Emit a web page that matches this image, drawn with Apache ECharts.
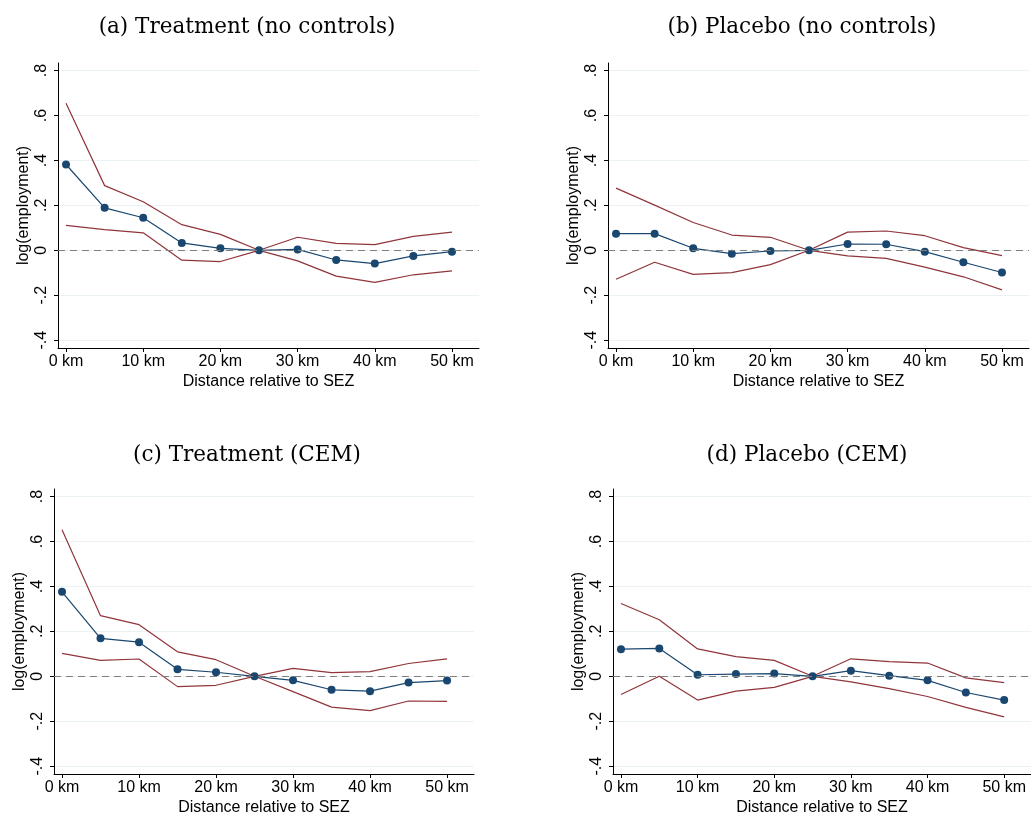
<!DOCTYPE html>
<html>
<head>
<meta charset="utf-8">
<script src="https://cdn.jsdelivr.net/npm/echarts@6/dist/echarts.min.js"></script>
<style>
  html, body { margin: 0; padding: 0; background: #fff; }
  #chart { width: 1031px; height: 817px; }
</style>
</head>
<body>
<div id="chart"></div>
<script>
// Distance bins (km) relative to the SEZ boundary
const distances = [0, 5, 10, 15, 20, 25, 30, 35, 40, 45, 50];
const xTickValues = [0, 10, 20, 30, 40, 50];
const yTickValues = [-0.4, -0.2, 0, 0.2, 0.4, 0.6, 0.8];

// (a) Treatment, no controls
const treatNoCtrlEst   = [0.382, 0.189, 0.145, 0.033, 0.009, 0, 0.004, -0.043, -0.059, -0.025, -0.006];
const treatNoCtrlUpper = [0.655, 0.288, 0.216, 0.114, 0.071, 0, 0.058, 0.031, 0.025, 0.062, 0.081];
const treatNoCtrlLower = [0.111, 0.092, 0.078, -0.044, -0.050, 0, -0.047, -0.115, -0.143, -0.109, -0.092];

// (b) Placebo, no controls
const placNoCtrlEst   = [0.074, 0.074, 0.009, -0.015, -0.003, 0, 0.028, 0.027, -0.006, -0.053, -0.099];
const placNoCtrlUpper = [0.277, 0.201, 0.124, 0.068, 0.058, 0, 0.081, 0.086, 0.065, 0.012, -0.024];
const placNoCtrlLower = [-0.129, -0.053, -0.107, -0.099, -0.064, 0, -0.025, -0.036, -0.075, -0.118, -0.176];

// (c) Treatment, CEM
const treatCemEst   = [0.376, 0.169, 0.152, 0.031, 0.018, 0, -0.018, -0.060, -0.066, -0.028, -0.019];
const treatCemUpper = [0.653, 0.270, 0.230, 0.109, 0.074, 0, 0.035, 0.016, 0.021, 0.057, 0.078];
const treatCemLower = [0.102, 0.071, 0.077, -0.046, -0.040, 0, -0.068, -0.137, -0.153, -0.110, -0.112];

// (d) Placebo, CEM
const placCemEst   = [0.121, 0.124, 0.007, 0.010, 0.012, 0, 0.025, 0.003, -0.018, -0.072, -0.106];
const placCemUpper = [0.324, 0.252, 0.122, 0.088, 0.071, 0, 0.078, 0.065, 0.059, -0.007, -0.028];
const placCemLower = [-0.081, 0, -0.106, -0.066, -0.049, 0, -0.025, -0.055, -0.090, -0.138, -0.181];

const panelTitles = [
  '(a) Treatment (no controls)',
  '(b) Placebo (no controls)',
  '(c) Treatment (CEM)',
  '(d) Placebo (CEM)'
];
const panels = [
  { est: treatNoCtrlEst, upper: treatNoCtrlUpper, lower: treatNoCtrlLower },
  { est: placNoCtrlEst,  upper: placNoCtrlUpper,  lower: placNoCtrlLower },
  { est: treatCemEst,    upper: treatCemUpper,    lower: treatCemLower },
  { est: placCemEst,     upper: placCemUpper,     lower: placCemLower }
];

// Layout of the four plot regions
const grids = [
  { left: 58,  top: 63,  width: 421, height: 285 },
  { left: 608, top: 63,  width: 421, height: 285 },
  { left: 54,  top: 489, width: 420, height: 286 },
  { left: 613, top: 489, width: 418, height: 286 }
];
const titleCenters = [
  { x: 242, y: 22 },
  { x: 797, y: 22 },
  { x: 242, y: 450 },
  { x: 802, y: 450 }
];

const NAVY = '#1a476f';
const MAROON = '#90353b';
const sansFont = '"Liberation Sans", Arial, sans-serif';

const pairs = ys => distances.map((d, i) => [d, ys[i]]);

const xAxes = grids.map((g, i) => ({
  type: 'value',
  gridIndex: i,
  min: -1.04,
  max: 53.5,
  name: 'Distance relative to SEZ',
  nameLocation: 'middle',
  nameGap: 26,
  nameTextStyle: { fontFamily: sansFont, fontSize: 16, color: '#000' },
  axisLine: { show: true, onZero: false, lineStyle: { color: '#000', width: 1 } },
  axisTick: { show: true, customValues: xTickValues, length: 4, lineStyle: { color: '#000' } },
  axisLabel: {
    customValues: xTickValues,
    formatter: v => v + ' km',
    fontFamily: sansFont, fontSize: 16, color: '#000', margin: 6
  },
  splitLine: { show: false }
}));

const yAxes = grids.map((g, i) => ({
  type: 'value',
  gridIndex: i,
  min: -0.435,
  max: 0.834,
  name: 'log(employment)',
  nameLocation: 'middle',
  nameGap: 26,
  nameTextStyle: { fontFamily: sansFont, fontSize: 16, color: '#000' },
  axisLine: { show: true, onZero: false, lineStyle: { color: '#000', width: 1 } },
  axisTick: { show: true, customValues: yTickValues, length: 4, lineStyle: { color: '#000' } },
  axisLabel: {
    customValues: yTickValues,
    rotate: 90,
    formatter: v => {
      const r = Math.round(v * 10) / 10;
      if (r === 0) return '0';
      return (r < 0 ? '-' : '') + String(Math.abs(r)).replace(/^0/, '');
    },
    fontFamily: sansFont, fontSize: 16, color: '#000', margin: 8
  },
  splitLine: { show: true, lineStyle: { color: '#eaf2f3', width: 1 } }
}));

const series = [];
panels.forEach((p, i) => {
  series.push({
    type: 'line', xAxisIndex: i, yAxisIndex: i,
    data: pairs(p.upper), symbol: 'none', silent: true,
    lineStyle: { color: MAROON, width: 1.2 },
    markLine: {
      silent: true, symbol: 'none', label: { show: false },
      lineStyle: { color: '#7f7f7f', type: [7, 5], width: 1.2 },
      data: [{ yAxis: 0 }]
    },
    z: 2
  });
  series.push({
    type: 'line', xAxisIndex: i, yAxisIndex: i,
    data: pairs(p.lower), symbol: 'none', silent: true,
    lineStyle: { color: MAROON, width: 1.2 }, z: 2
  });
  series.push({
    type: 'line', xAxisIndex: i, yAxisIndex: i,
    data: pairs(p.est), symbol: 'circle', symbolSize: 8, silent: true,
    itemStyle: { color: NAVY },
    lineStyle: { color: NAVY, width: 1.2 }, z: 3
  });
});

const chart = echarts.init(document.getElementById('chart'), null, { renderer: 'canvas' });
chart.setOption({
  animation: false,
  backgroundColor: '#fff',
  title: panelTitles.map((t, i) => ({
    text: t,
    left: titleCenters[i].x,
    top: titleCenters[i].y,
    textAlign: 'center',
    textVerticalAlign: 'middle',
    textStyle: { fontFamily: '"DejaVu Serif", serif', fontWeight: 'normal', fontSize: 21.5, color: '#000' }
  })),
  grid: grids,
  xAxis: xAxes,
  yAxis: yAxes,
  series: series
});
</script>
</body>
</html>
